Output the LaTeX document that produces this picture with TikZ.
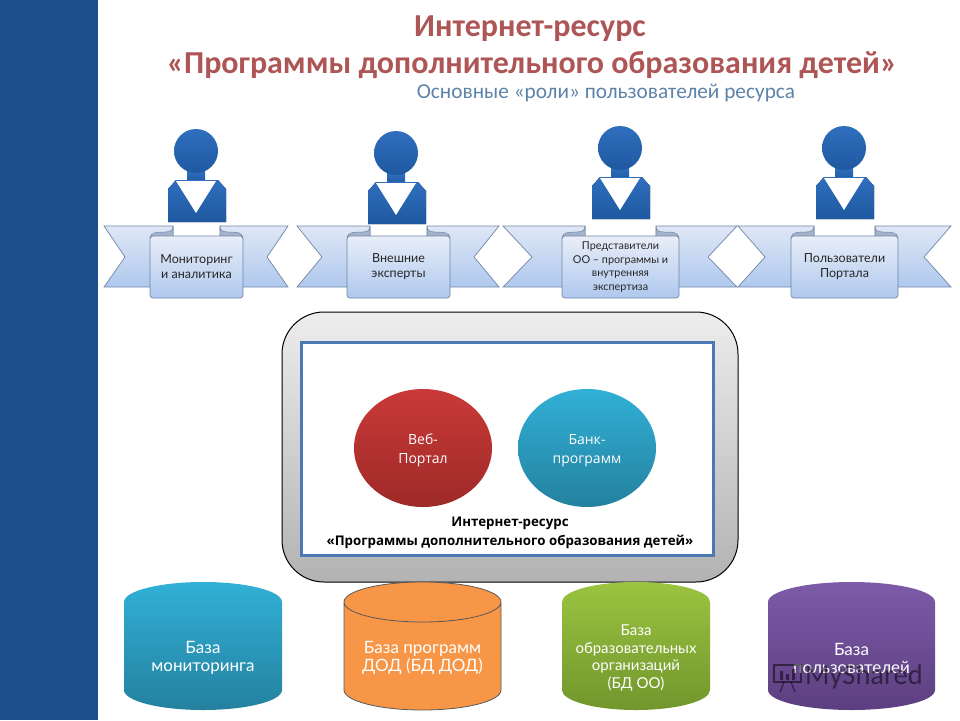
\documentclass[tikz,border=0pt]{standalone}
\usepackage{fontspec}
\setmainfont{Carlito}
\newfontfamily\labelfont{Lato}
\newfontfamily\panelfont{Open Sans}
\usetikzlibrary{shapes.geometric,calc}

\definecolor{bandblue}{HTML}{1F4E8D}
\definecolor{titleink}{HTML}{AE5555}
\definecolor{subink}{HTML}{5C83A8}
\definecolor{manblue}{HTML}{2F6FBE}
\definecolor{manblue2}{HTML}{1F58A0}
\definecolor{ribbonline}{HTML}{6F86A6}
\definecolor{curlgrey}{HTML}{A4B3CC}
\definecolor{ribbontop}{HTML}{DFE7F5}
\definecolor{ribbonlow}{HTML}{AFC8EE}
\definecolor{framered}{HTML}{C93A38}
\definecolor{frameredd}{HTML}{9E2A28}
\definecolor{capblue}{HTML}{31B0D6}
\definecolor{capblued}{HTML}{24819F}
\definecolor{caporange}{HTML}{F79646}
\definecolor{capgreen}{HTML}{9BC440}
\definecolor{capgreend}{HTML}{71962D}
\definecolor{cappurple}{HTML}{7D5BA8}
\definecolor{cappurpled}{HTML}{5C3F80}

\def\scrollpt{12.5}
\def\scrollskip{15}
\def\dbpt{17}
\def\dbskip{18}

\tikzset{
  x=1pt, y=-1pt,
  ribbonpart/.style = {draw=ribbonline, line width=.7pt, top color=ribbontop, bottom color=ribbonlow},
  scrollpart/.style = {draw=ribbonline, line width=.7pt, top color=ribbontop!70!white, bottom color=ribbonlow,
    rounded corners=3pt},
  curlpart/.style = {draw=ribbonline, line width=.5pt, fill=curlgrey},
  scrolltext/.style = {font=\labelfont\fontsize{\scrollpt}{\scrollskip}\selectfont, align=center, text=black!85},
  balltext/.style = {font=\panelfont\fontsize{14}{19}\selectfont, align=center, text=white},
  dbtext/.style = {font=\labelfont\fontsize{\dbpt}{\dbskip}\selectfont, align=center, text=white},
  panelhead/.style = {font=\panelfont\bfseries\fontsize{13.3}{19}\selectfont, align=center, text=black},
  titletext/.style = {font=\bfseries\fontsize{32}{36}\selectfont, text=titleink},
  ballshape/.style = {ellipse, minimum width=138, minimum height=118, inner sep=0pt}
}

% person: x, y of the head
\newcommand\person[2]{
  \fill[top color=manblue, bottom color=manblue2] (#1-9,#2+20) rectangle (#1+9,#2+32);
  \fill[top color=manblue, bottom color=manblue2] (#1-20,#2+29) -- (#1+22,#2+29) -- (#1+30,#2+38)
    -- (#1+30,#2+71) -- (#1-28,#2+71) -- (#1-28,#2+38) -- cycle;
  \fill[white] (#1-20,#2+30) -- (#1+20,#2+30) -- (#1,#2+62) -- cycle;
  \path[top color=manblue, bottom color=manblue2] (#1,#2) circle (22);
}

% ribbon: name, outer left, outer right, notch, scroll left, scroll right, text
\newcommand\ribbon[7]{
  \path[ribbonpart] (#2,226) -- (#2+#4,257) -- (#2,287) -- (#3,287) -- (#3-#4,257) -- (#3,226)
    -- (#6-23,226) -- (#6-23,240) -- (#5+23,240) -- (#5+23,226) -- cycle;
  \path[curlpart] (#5,238) .. controls (#5,232) and (#5+8,232) .. (#5+15,232)
    .. controls (#5+21,232) and (#5+23,230) .. (#5+23,226) -- (#5+23,238) -- cycle;
  \path[curlpart] (#6,238) .. controls (#6,232) and (#6-8,232) .. (#6-15,232)
    .. controls (#6-21,232) and (#6-23,230) .. (#6-23,226) -- (#6-23,238) -- cycle;
  \path[scrollpart] (#5,236) -- (#6,236) -- (#6,298) -- (#5,298) -- cycle;
  \node[scrolltext] (#1) at ({(#5+#6)/2},267) {#7};
}

% base: name, left, right, top colour, bottom colour, text
\newcommand\dbase[6]{
  \path[top color=#4, bottom color=#5] (#2,602) arc [start angle=180, end angle=360,
      x radius={(#3-#2)/2}, y radius=20] -- (#3,690) arc [start angle=0, end angle=180,
      x radius={(#3-#2)/2}, y radius=20] -- cycle;
  \node[dbtext] (#1) at ({(#2+#3)/2},658) {#6};
}

\begin{document}
\begin{tikzpicture}
  \useasboundingbox (0,0) rectangle (960,720);
  \fill[bandblue] (0,0) rectangle (98,720);

  \node[titletext] (head1) at (530,29) {Интернет-ресурс};
  \node[titletext] (head2) at (532,65) {«Программы дополнительного образования детей»};
  \node[font=\fontsize{21.3}{24}\selectfont, text=subink] (head3) at (606,93)
    {Основные «роли» пользователей ресурса};

  \person{196}{151}
  \person{396}{153}
  \person{620}{148}
  \person{844}{148}

  \ribbon{roleA}{104}{288}{21}{150}{243}{Мониторинг\\и аналитика}
  \ribbon{roleB}{297}{499}{25}{347}{450}{Внешние\\эксперты}
  \def\scrollpt{10.8}\def\scrollskip{13.7}
  \ribbon{roleC}{503}{737}{29}{562}{679}{Представители\\ОО – программы и\\внутренняя\\экспертиза}
  \def\scrollpt{12.5}\def\scrollskip{15}
  \ribbon{roleD}{738}{951}{27}{791}{898}{Пользователи\\Портала}

  \path[draw=black, line width=1pt, top color=black!7, bottom color=black!30, rounded corners=42]
    (282,312) rectangle (738,582);
  \path[draw=manblue2!80!white, line width=3pt, fill=white] (301,342) rectangle (713,555);

  \node[ballshape, top color=framered, bottom color=frameredd] (portal) at (423,448) {};
  \node[balltext] (portaltxt) at ($(portal)+(0,2)$) {Веб-\\Портал};
  \node[ballshape, top color=capblue, bottom color=capblued] (bank) at (587,448) {};
  \node[balltext] (banktxt) at ($(bank)+(0,3)$) {Банк-\\программ};
  \node[panelhead] (panelname) at (510,533) {Интернет-ресурс\\«Программы дополнительного образования детей»};

  \dbase{dbA}{124}{282}{capblue}{capblued}{База\\мониторинга}
  \dbase{dbB}{344}{501}{caporange}{caporange}{База программ\\ДОД (БД ДОД)}
  \draw[black!65, line width=.8pt] (344,602) arc [start angle=180, end angle=-180, x radius=78.5, y radius=20]
    -- (344,690) arc [start angle=180, end angle=0, x radius=78.5, y radius=20] -- (501,602);
  \def\dbpt{15}\def\dbskip{17.7}
  \dbase{dbC}{562}{710}{capgreen}{capgreend}{База\\образовательных\\организаций\\(БД ОО)}
  \def\dbpt{17}\def\dbskip{18}
  \dbase{dbD}{768}{935}{cappurple}{cappurpled}{База\\пользователей}

  % watermark
  \begin{scope}[opacity=.5, black]
    \draw[line width=1.5pt] (774,665) rectangle (801,682);
    \fill (780,671) rectangle (783,680) (786,674) rectangle (789,680) (792,669) rectangle (795,680);
    \draw[line width=1.2pt] (784,682) -- (780,692) (791,682) -- (795,692);
    \node[font=\fontsize{28.5}{30}\selectfont, text=black] (mark) at (864,677) {MyShared};
  \end{scope}
\end{tikzpicture}
\end{document}
